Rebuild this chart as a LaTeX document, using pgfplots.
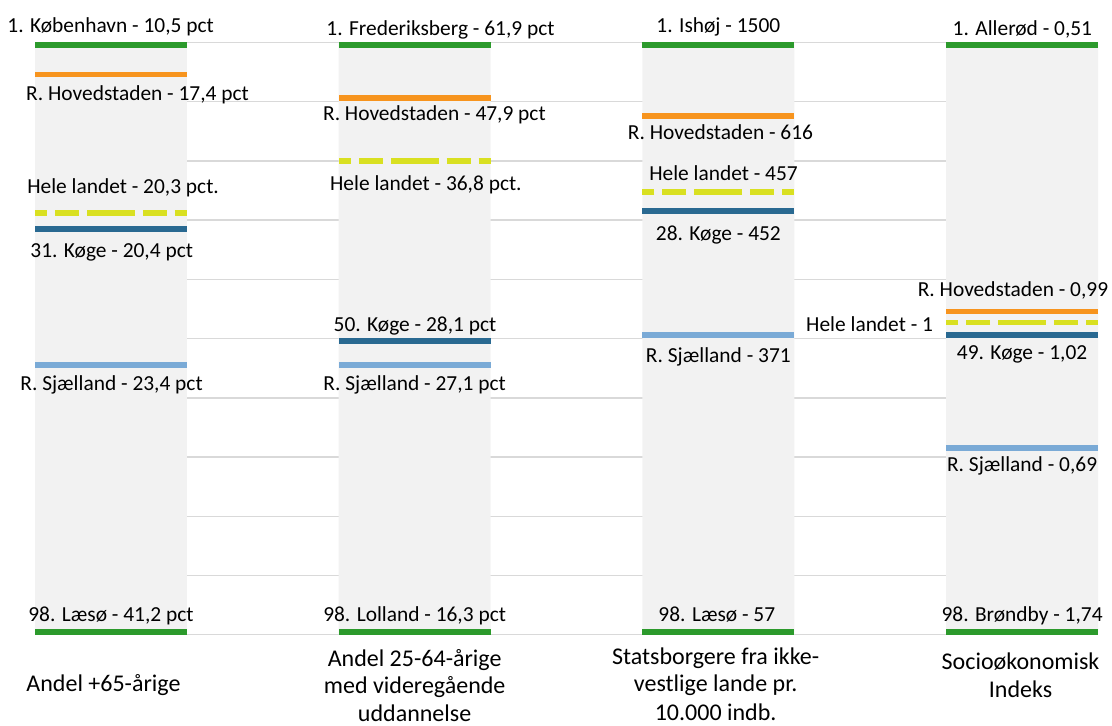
\documentclass[border=0pt]{standalone}
\usepackage{fontspec}
\setmainfont{Carlito}
\usepackage{pgfplots}
\usepackage{pgfplotstable}
\pgfplotsset{compat=1.18}

\definecolor{barfill}{RGB}{242,242,242}
\definecolor{gridc}{RGB}{217,217,217}
\definecolor{cgreen}{RGB}{44,154,44}
\definecolor{corange}{RGB}{247,148,30}
\definecolor{cyellow}{RGB}{217,224,33}
\definecolor{cdark}{RGB}{41,105,145}
\definecolor{clight}{RGB}{122,170,214}

% marker positions (scale 0 = last place, 10 = first place)
\pgfplotstableread{
x y
1 9.96
2 9.96
3 9.96
4 9.96
}\besttab
\pgfplotstableread{
x y
1 0.05
2 0.05
3 0.05
4 0.05
}\worsttab
\pgfplotstableread{
x y
1 9.46
2 9.06
3 8.76
4 5.46
}\hovedtab
\pgfplotstableread{
x y
1 7.12
2 8.00
3 7.47
4 5.27
}\landtab
\pgfplotstableread{
x y
1 6.85
2 4.96
3 7.15
4 5.06
}\kogetab
\pgfplotstableread{
x y
1 4.55
2 4.56
3 5.06
4 3.15
}\sjaltab

\tikzset{lbl/.style={anchor=base, inner sep=0pt, font=\fontsize{10.7}{13.85}\selectfont},
  cat/.style={anchor=base, inner sep=0pt, font=\fontsize{12}{13.85}\selectfont}}
\pgfplotsset{marker/.style={draw=none, mark=none, forget plot,
    error bars/.cd, x dir=both, x fixed=0.25, error mark=none,
    error bar style={solid, line width=2.85pt, draw=#1}}}

\begin{document}
\begin{tikzpicture}
\path[use as bounding box] (-17.5pt,-45.15pt) rectangle (538.5pt,317.35pt);
\begin{axis}[
  at={(0pt,0pt)}, anchor=south west,
  scale only axis,
  width=531.5pt, height=296.1pt,
  xmin=0.75, xmax=4.25, ymin=0, ymax=10,
  enlargelimits=false,
  axis line style={draw=none},
  xtick=\empty,
  ytick={0,1,...,10},
  yticklabels={},
  ytick style={draw=none},
  ymajorgrids,
  major grid style={line width=0.75pt, gridc},
  clip=false,
]
\addplot[ybar, bar width=0.5, fill=barfill, draw=none] coordinates {(1,10) (2,10) (3,10) (4,10)};

\addplot[marker=cgreen] table {\besttab};
\addplot[marker=cgreen] table {\worsttab};
\addplot[marker=corange] table {\hovedtab};
\addplot[marker=cdark] table {\kogetab};
\addplot[marker=clight] table {\sjaltab};
\addplot[draw=none, mark=none, forget plot,
    error bars/.cd, x dir=both, x fixed=0.25, error mark=none,
    error bar style={line width=2.85pt, draw=cyellow, dash pattern=on 12pt off 4pt}] table {\landtab};

% column 1
\node[lbl] at (axis cs:0.999,10.172) {1. København - 10,5 pct};
\node[lbl] at (axis cs:1.0875,9.029) {R. Hovedstaden - 17,4 pct};
\node[lbl] at (axis cs:1.040,7.442) {Hele landet - 20,3 pct.};
\node[lbl] at (axis cs:1.0025,6.373) {31. Køge - 20,4 pct};
\node[lbl] at (axis cs:1.002,4.132) {R. Sjælland - 23,4 pct};
\node[lbl] at (axis cs:1.0,0.231) {98. Læsø - 41,2 pct};
\node[cat] at (axis cs:0.9755,-0.9625) {Andel +65-årige};
% column 2
\node[lbl] at (axis cs:2.085,10.110) {1. Frederiksberg - 61,9 pct};
\node[lbl] at (axis cs:2.065,8.691) {R. Hovedstaden - 47,9 pct};
\node[lbl] at (axis cs:2.037,7.509) {Hele landet - 36,8 pct.};
\node[lbl] at (axis cs:2.001,5.128) {50. Køge - 28,1 pct};
\node[lbl] at (axis cs:2.0,4.132) {R. Sjælland - 27,1 pct};
\node[lbl] at (axis cs:2.0,0.231) {98. Lolland - 16,3 pct};
\node[cat] at (axis cs:2.0,-0.529) {Andel 25-64-årige};
\node[cat] at (axis cs:2.0,-0.993) {med videregående};
\node[cat] at (axis cs:2.0,-1.466) {uddannelse};
% column 3
\node[lbl] at (axis cs:3.0,10.172) {1. Ishøj - 1500};
\node[lbl] at (axis cs:3.007,8.354) {R. Hovedstaden - 616};
\node[lbl] at (axis cs:3.017,7.678) {Hele landet - 457};
\node[lbl] at (axis cs:3.0,6.665) {28. Køge - 452};
\node[lbl] at (axis cs:3.0,4.593) {R. Sjælland - 371};
\node[lbl] at (axis cs:2.995,0.231) {98. Læsø - 57};
\node[cat] at (axis cs:2.991,-0.496) {Statsborgere fra ikke-};
\node[cat] at (axis cs:2.991,-0.964) {vestlige lande pr.};
\node[cat] at (axis cs:2.991,-1.441) {10.000 indb.};
% column 4
\node[lbl] at (axis cs:4.001,10.115) {1. Allerød - 0,51};
\node[lbl] at (axis cs:3.970,5.708) {R. Hovedstaden - 0,99};
\node[lbl] at (axis cs:3.498,5.117) {Hele landet - 1};
\node[lbl] at (axis cs:4.0,4.655) {49. Køge - 1,02};
\node[lbl] at (axis cs:4.0,2.752) {R. Sjælland - 0,69};
\node[lbl] at (axis cs:4.0,0.231) {98. Brøndby - 1,74};
\node[cat] at (axis cs:3.995,-0.579) {Socioøkonomisk};
\node[cat] at (axis cs:3.995,-1.057) {Indeks};
\end{axis}
\end{tikzpicture}
\end{document}
